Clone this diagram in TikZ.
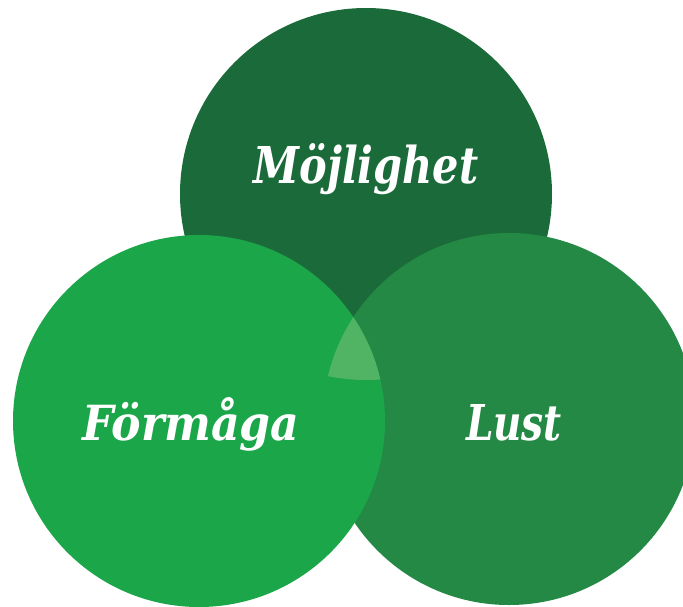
\documentclass[tikz,border=0pt]{standalone}
\usepackage{fontspec}
\usepackage{graphicx}
\setmainfont{DejaVu Serif}
\definecolor{topgreen}{RGB}{27,107,58}
\definecolor{leftgreen}{RGB}{27,166,74}
\definecolor{rightgreen}{RGB}{35,137,68}
\definecolor{midgreen}{RGB}{80,180,100}
\begin{document}
\begin{tikzpicture}[x=1pt,y=-1pt,
  disc/.style={circle,inner sep=0pt,minimum size=372pt,draw=none},
  lbl/.style={text=white,anchor=base,inner sep=0pt,font=\fontsize{40}{44}\selectfont\bfseries\itshape}]
\useasboundingbox (0,0) rectangle (683,606);
\node[disc,fill=topgreen] (top) at (366,194) {};
\node[disc,fill=rightgreen] (right) at (509,419) {};
\node[disc,fill=leftgreen] (left) at (199,421) {};
\begin{scope}
  \clip (366,194) circle[radius=186];
  \clip (199,421) circle[radius=186];
  \fill[midgreen] (509,419) circle[radius=186];
\end{scope}
\node[lbl] (t1) at (366,183) {\resizebox{225pt}{40pt}{Möjlighet}};
\node[lbl] (t2) at (191,440) {\resizebox{217pt}{43pt}{Förmåga}};
\node[lbl] (t3) at (514,440) {\resizebox{96pt}{36pt}{Lust}};
\end{tikzpicture}
\end{document}
